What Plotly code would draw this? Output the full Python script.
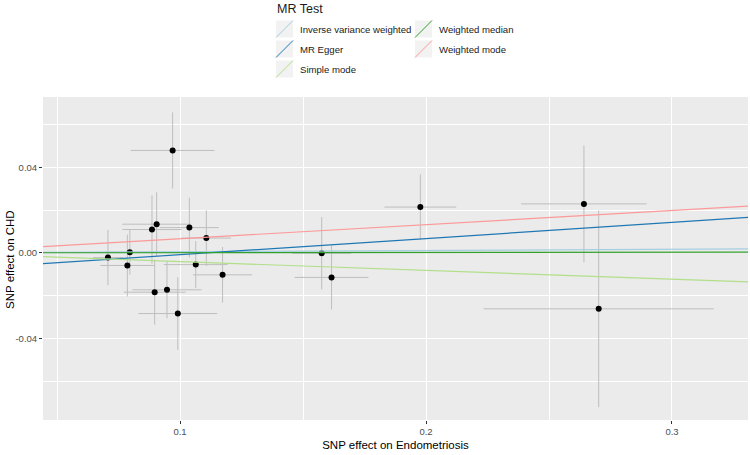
import plotly.graph_objects as go

# ---- data ----
snp_x = [0.0970, 0.0905, 0.0886, 0.1038, 0.1107, 0.0796, 0.0707, 0.0786, 0.1064,
         0.1173, 0.0897, 0.0947, 0.0991, 0.1576, 0.1616, 0.1977, 0.2642, 0.2702]
snp_y = [0.0479, 0.0134, 0.0109, 0.0118, 0.0069, 0.0003, -0.0022, -0.0059, -0.0055,
         -0.0103, -0.0184, -0.0173, -0.0284, -0.0002, -0.0115, 0.0214, 0.0229, -0.0262]
se_x = [0.0170, 0.0140, 0.0120, 0.0120, 0.0100, 0.0100, 0.0060, 0.0110, 0.0130,
        0.0120, 0.0126, 0.0140, 0.0160, 0.0120, 0.0150, 0.0146, 0.0255, 0.0468]
se_y = [0.0178, 0.0150, 0.0160, 0.0140, 0.0130, 0.0105, 0.0129, 0.0145, 0.0110,
        0.0130, 0.0152, 0.0133, 0.0170, 0.0169, 0.0150, 0.0153, 0.0273, 0.0460]

methods = ["Inverse variance weighted", "MR Egger", "Simple mode",
           "Weighted median", "Weighted mode"]
slopes = [0.0055, 0.0754, -0.0410, 0.0010, 0.0660]
intercepts = [0.0, -0.0084, 0.0, 0.0, 0.0]
colors = ["#A6CEE3", "#1F78B4", "#B2DF8A", "#33A02C", "#FB9A99"]

x_ticks = [0.1, 0.2, 0.3]
y_ticks = [0.04, 0.0, -0.04]
y_tick_labels = ["0.04", "0.00", "-0.04"]

x_range = [0.0443, 0.3309]
y_range = [-0.0782, 0.0729]

# ---- figure geometry (pixels) ----
W, H = 750, 455
L, R, T, B = 43, 2, 97, 35
PW, PH = W - L - R, H - T - B


def px(xp):
    return (xp - L) / PW


def py(yp):
    return (H - B - yp) / PH


fig = go.Figure()

# error bars + points
fig.add_trace(go.Scatter(
    x=snp_x, y=snp_y, mode="markers",
    marker=dict(color="black", size=6),
    error_x=dict(type="data", array=se_x, width=0, thickness=1, color="#BEBEBE"),
    error_y=dict(type="data", array=se_y, width=0, thickness=1, color="#BEBEBE"),
    showlegend=False, hoverinfo="skip",
))

# MR lines across the full panel
for name, b, a, c in zip(methods, slopes, intercepts, colors):
    xs = x_range
    ys = [a + b * v for v in xs]
    fig.add_trace(go.Scatter(x=xs, y=ys, mode="lines", name=name,
                             line=dict(color=c, width=1.2), showlegend=False))

# ---- manual ggplot-like legend ----
shapes = []
annotations = []
annotations.append(dict(text="MR Test", x=px(275), y=py(9), xref="paper", yref="paper",
                        xanchor="left", yanchor="middle", showarrow=False,
                        font=dict(size=12.5, color="#1A1A1A")))
key_cols = [276, 415]
row_y = [29, 49, 69]
for i, (name, c) in enumerate(zip(methods, colors)):
    col = 0 if i < 3 else 1
    row = i if i < 3 else i - 3
    kx0 = key_cols[col]
    ky = row_y[row]
    kx1 = kx0 + 17
    ky0, ky1 = ky - 8.5, ky + 8.5
    shapes.append(dict(type="rect", xref="paper", yref="paper",
                       x0=px(kx0), x1=px(kx1), y0=py(ky1), y1=py(ky0),
                       fillcolor="#F2F2F2", line=dict(width=0), layer="above"))
    shapes.append(dict(type="line", xref="paper", yref="paper",
                       x0=px(kx0), x1=px(kx1), y0=py(ky1), y1=py(ky0),
                       line=dict(color=c, width=1), layer="above"))
    annotations.append(dict(text=name, x=px(kx1 + 5), y=py(ky), xref="paper", yref="paper",
                            xanchor="left", yanchor="middle", showarrow=False,
                            font=dict(size=9.6, color="#1A1A1A")))

# y-axis title placed like ggplot's
annotations.append(dict(text="SNP effect on CHD", x=px(10), y=py(260), xref="paper",
                        yref="paper", xanchor="center", yanchor="middle", textangle=-90,
                        showarrow=False, font=dict(size=11.5, color="black")))

fig.update_layout(
    width=W, height=H,
    margin=dict(l=L, r=R, t=T, b=B),
    paper_bgcolor="white", plot_bgcolor="#EBEBEB",
    font=dict(family="Liberation Sans, Arial, sans-serif", color="#1A1A1A"),
    shapes=shapes, annotations=annotations,
    showlegend=False,
)
fig.update_xaxes(
    range=x_range, tickvals=x_ticks, ticktext=[str(v) for v in x_ticks],
    showgrid=True, gridcolor="white", gridwidth=1.1, zeroline=False,
    ticks="outside", ticklen=3, tickcolor="#333333", tickwidth=1,
    tickfont=dict(size=9.5, color="#4D4D4D"),
    minor=dict(tickvals=[0.05, 0.15, 0.25], showgrid=True, gridcolor="white",
               gridwidth=0.5, ticks=""),
    title=dict(text="SNP effect on Endometriosis", font=dict(size=11.5, color="black"),
               standoff=4),
    showline=False,
)
fig.update_yaxes(
    range=y_range, tickvals=y_ticks, ticktext=y_tick_labels,
    showgrid=True, gridcolor="white", gridwidth=1.1, zeroline=False,
    ticks="outside", ticklen=3, tickcolor="#333333", tickwidth=1,
    tickfont=dict(size=9.5, color="#4D4D4D"),
    minor=dict(tickvals=[0.06, 0.02, -0.02, -0.06], showgrid=True, gridcolor="white",
               gridwidth=0.5, ticks=""),
    showline=False,
)

fig.write_html(
    "out.html",
    config={"displayModeBar": False},
    post_script="document.body.style.margin='0';document.body.style.overflow='hidden';",
)
